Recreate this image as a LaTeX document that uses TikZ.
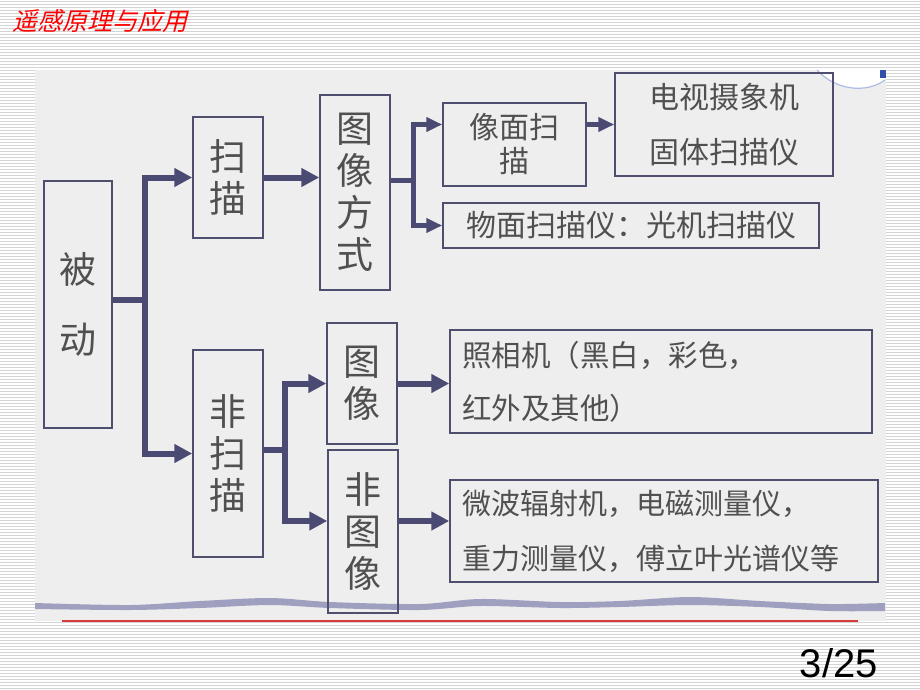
\documentclass[tikz,border=0pt]{standalone}
\usepackage{fontspec}
\newfontfamily\cjk{Noto Sans CJK SC}
\newfontfamily\cjkit[FakeSlant=0.25]{Noto Sans CJK SC}
\newfontfamily\pagefont{Liberation Sans}
\usetikzlibrary{arrows.meta}
\definecolor{linec}{HTML}{4A4A72}
\definecolor{boxc}{HTML}{4E4E6E}
\definecolor{textc}{HTML}{505050}
\definecolor{panelc}{HTML}{EEEEEF}
\definecolor{stripec}{HTML}{D4D4D4}
\definecolor{wavec}{HTML}{9FA0C0}
\definecolor{redline}{HTML}{D8393B}
\definecolor{arcc}{HTML}{AEBCE4}
\definecolor{cornerc}{HTML}{3050A8}
\begin{document}
\begin{tikzpicture}[x=1pt, y=-1pt, line join=miter,
  box/.style={draw=boxc, line width=1.5pt, text=textc, align=center, inner sep=0pt},
  big/.style={box, font=\cjk\fontsize{37}{42}\selectfont},
  small/.style={box, font=\cjk\fontsize{30}{34}\selectfont},
  ln/.style={draw=linec, line width=6pt},
  arr/.style={ln, -{Triangle[length=18pt,width=18pt]}},
  ln2/.style={draw=linec, line width=5pt},
  arr2/.style={ln2, -{Triangle[length=16pt,width=14pt]}}]
  \useasboundingbox (0,0) rectangle (920,690);
  \fill[white] (0,0) rectangle (920,690);
  \foreach \y in {1.5,4.5,...,690}
    \draw[stripec, line width=1pt] (0,\y) -- (920,\y);
  \fill[panelc] (35,70) rectangle (886,621);
  \fill[white] (817,69) .. controls (835,90) and (866,94) .. (885,80) -- (887,69) -- cycle;
  \draw[arcc, line width=1.2pt] (817,70) .. controls (835,90) and (866,94) .. (885,80);
  \fill[cornerc] (880,70) rectangle (886,78);
  \node (title) at (12,21) [anchor=west, inner sep=0pt, text=red, font=\cjkit\fontsize{25}{25}\selectfont]{遥感原理与应用};
  \fill[wavec] plot[smooth] coordinates {(35,603) (130,605) (200,601) (270,598) (330,602) (420,604) (480,599) (560,602) (620,601) (690,597) (760,601) (830,604) (885,603)}
    -- plot[smooth] coordinates {(885,611) (830,611) (760,607) (690,605) (620,607) (560,608) (480,606) (420,610) (330,608) (270,605) (200,608) (130,610) (35,609)} -- cycle;
  \draw[redline, line width=2pt] (62,621) -- (858,621);
  \node (page) at (878,663) [anchor=east, inner sep=0pt, font=\pagefont\fontsize{40}{40}\selectfont]{3/25};

  \node (beidong) at (78,304.5) [big, minimum width=68pt, minimum height=247pt]{被\\[28pt]动};
  \node (saomiao) at (228,177.5) [big, minimum width=70pt, minimum height=121pt]{扫\\描};
  \node (tuxiangfs) at (355,192.5) [big, minimum width=70pt, minimum height=195pt]{图\\像\\方\\式};
  \node (xiangmian) at (514.5,144.5) [small, minimum width=143pt, minimum height=83pt]{像面扫\\描};
  \node (dianshi) at (724,124.5) [small, font=\cjk\fontsize{30}{55}\selectfont, minimum width=218pt, minimum height=103pt]{电视摄象机\\固体扫描仪};
  \node (wumian) at (631,225.5) [small, minimum width=376pt, minimum height=45pt]{物面扫描仪：光机扫描仪};
  \node (feisaomiao) at (228,453.5) [big, minimum width=70pt, minimum height=207pt]{非\\扫\\描};
  \node (tuxiang) at (362,383.5) [big, minimum width=70pt, minimum height=121pt]{图\\像};
  \node (feituxiang) at (363,531.5) [big, minimum width=70pt, minimum height=163pt]{非\\图\\像};
  \node (zhaoxiang) at (661,381.5) [small, font=\cjk\fontsize{29.5}{53}\selectfont, align=left, text width=398pt, inner xsep=12pt, minimum height=103pt]{照相机（黑白，彩色，\\红外及其他）};
  \node (weibo) at (664,531) [small, font=\cjk\fontsize{29}{55}\selectfont, align=left, text width=404pt, inner xsep=12pt, minimum height=102pt]{微波辐射机，电磁测量仪，\\重力测量仪，傅立叶光谱仪等};

  \coordinate (j1) at (145,300);
  \coordinate (j2) at (413,180);
  \coordinate (j3) at (285,450);
  \coordinate (k) at (420,521);
  \draw[ln] (beidong.east |- j1) -- (j1);
  \draw[arr] (j1) |- (saomiao.west);
  \draw[arr] (j1) |- (feisaomiao.west);
  \draw[arr] (saomiao.east) -- (saomiao.east -| tuxiangfs.west);
  \draw[ln2] (tuxiangfs.east |- j2) -- (j2);
  \draw[arr2] (j2) |- (xiangmian.west |- dianshi);
  \draw[arr2] (j2) |- (wumian.west);
  \draw[arr2] (xiangmian.east |- dianshi) -- (dianshi.west);
  \draw[ln] (feisaomiao.east |- j3) -- (j3);
  \draw[arr] (j3) |- (tuxiang.west);
  \draw[arr] (j3) |- (feituxiang.west |- k);
  \draw[arr] (tuxiang.east) -- (tuxiang.east -| zhaoxiang.west);
  \draw[arr] (feituxiang.east |- k) -- (weibo.west |- k);
\end{tikzpicture}
\end{document}
